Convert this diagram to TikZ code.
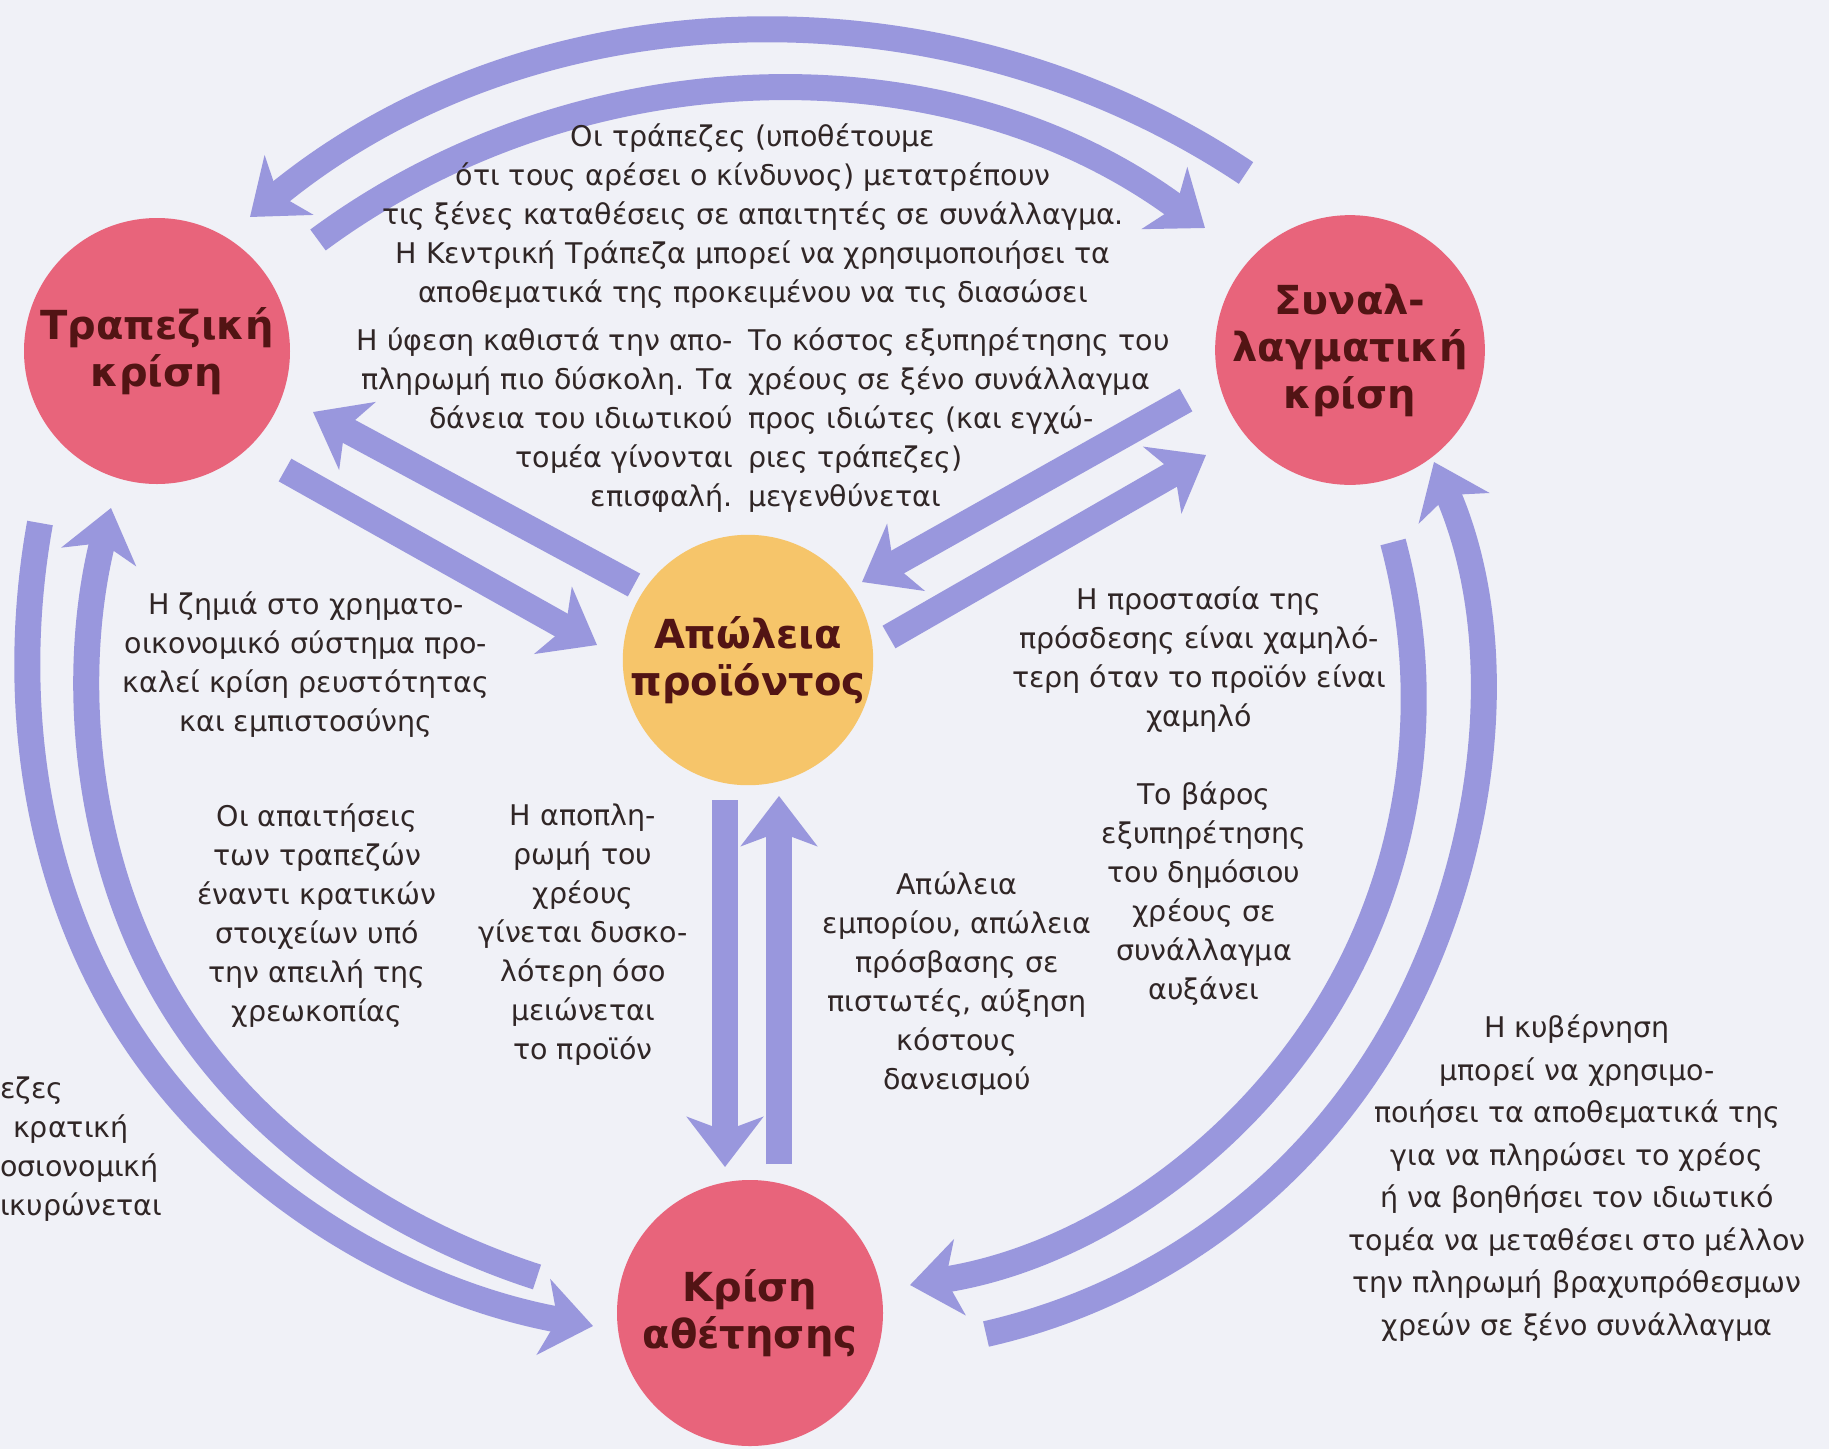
\documentclass[tikz,border=0pt]{standalone}
\usepackage{fontspec}
\setmainfont{DejaVu Sans}
\usetikzlibrary{arrows.meta}
\definecolor{bgc}{RGB}{240,241,247}
\definecolor{pinkc}{RGB}{232,100,123}
\definecolor{yellc}{RGB}{246,197,106}
\definecolor{arrc}{RGB}{153,151,221}
\definecolor{txtc}{RGB}{48,38,38}
\definecolor{lblc}{RGB}{82,20,20}
\tikzset{
  arr/.style={draw=arrc, line width=26pt, -{Stealth[length=50pt,width=76pt,inset=14pt]}},
  pinkcirc/.style={circle, fill=pinkc, inner sep=0pt, minimum size=266pt},
  yellcirc/.style={circle, fill=yellc, inner sep=0pt, minimum size=246pt},
  lbl/.style={font=\fontsize{40}{47}\selectfont\bfseries, text=lblc, align=center},
  txt/.style={font=\fontsize{28.5}{39}\selectfont, text=txtc, inner sep=0pt},
  txtwide/.style={font=\fontsize{28.5}{42.5}\selectfont, text=txtc, inner sep=0pt},
}
\begin{document}
\begin{tikzpicture}[x=1pt,y=-1pt]
\useasboundingbox (0,0) rectangle (1829,1449);
\fill[bgc] (0,0) rectangle (1829,1449);

% circles
\node[pinkcirc, lbl] (tk) at (157,351) {Τραπεζική\\κρίση};
\node[pinkcirc, lbl] (sk) at (1350,350) {Συναλ-\\λαγματική\\κρίση};
\node[yellcirc, lbl] (ap) at (748,660) {Απώλεια\\προϊόντος};
\node[pinkcirc, lbl] (ka) at (750,1313) {Κρίση\\αθέτησης};

% arrow end points
\coordinate (a1s) at (1246,173);  \coordinate (a1e) at (250,217);
\coordinate (a2s) at (318,240);   \coordinate (a2e) at (1205,228);
\coordinate (a3s) at (634,585);   \coordinate (a3e) at (313,412);
\coordinate (a4s) at (285,470);   \coordinate (a4e) at (597,645);
\coordinate (a5s) at (1186,400);  \coordinate (a5e) at (862,582);
\coordinate (a6s) at (889,637);   \coordinate (a6e) at (1206,455);
\coordinate (a7s) at (725,800);   \coordinate (a7e) at (725,1167);
\coordinate (a8s) at (779,1164);  \coordinate (a8e) at (779,796);
\coordinate (a9s) at (40,523);    \coordinate (a9m) at (140,1048);   \coordinate (a9e) at (593,1326);
\coordinate (a10s) at (537,1277); \coordinate (a10m) at (160.3,984.7); \coordinate (a10e) at (111,508);
\coordinate (a11s) at (1393,542); \coordinate (a11m) at (1318.3,1021.5); \coordinate (a11e) at (910,1285);
\coordinate (a12s) at (986,1334); \coordinate (a12m) at (1407.6,1003.2); \coordinate (a12e) at (1434,462);

% arrows
\draw[arr] (a1s) .. controls (942,-30) and (532,-14) .. (a1e);
\draw[arr] (a2s) .. controls (579,47) and (946,37) .. (a2e);
\draw[arr] (a3s) -- (a3e);
\draw[arr] (a4s) -- (a4e);
\draw[arr] (a5s) -- (a5e);
\draw[arr] (a6s) -- (a6e);
\draw[arr] (a7s) -- (a7e);
\draw[arr] (a8s) -- (a8e);
\draw[arr] (a9s) .. controls (7.6,702.9) and (35.8,897.7) .. (a9m)
            .. controls (244.2,1198.3) and (413.1,1293.3) .. (a9e);
\draw[arr] (a10s) .. controls (381.9,1226.6) and (239.3,1127.4) .. (a10m)
            .. controls (81.3,842) and (71.4,666.2) .. (a10e);
\draw[arr] (a11s) .. controls (1436.8,705.5) and (1410.8,879.7) .. (a11m)
            .. controls (1225.8,1163.3) and (1077.3,1259.1) .. (a11e);
\draw[arr] (a12s) .. controls (1168.9,1292.4) and (1323.6,1171.0) .. (a12m)
            .. controls (1491.6,835.4) and (1508.3,633.4) .. (a12e);

% texts
\node[txt, align=center] (t1) at (753,216) {Οι τράπεζες (υποθέτουμε\\ότι τους αρέσει ο κίνδυνος) μετατρέπουν\\τις ξένες καταθέσεις σε απαιτητές σε συνάλλαγμα.\\Η Κεντρική Τράπεζα μπορεί να χρησιμοποιήσει τα\\αποθεματικά της προκειμένου να τις διασώσει};
\node[txt, align=right, anchor=east] (t2) at (733,420) {Η ύφεση καθιστά την απο-\\πληρωμή πιο δύσκολη. Τα\\δάνεια του ιδιωτικού\\τομέα γίνονται\\επισφαλή.};
\node[txt, align=left, anchor=west] (t3) at (748,420) {Το κόστος εξυπηρέτησης του\\χρέους σε ξένο συνάλλαγμα\\προς ιδιώτες (και εγχώ-\\ριες τράπεζες)\\μεγενθύνεται};
\node[txt, align=center] (t4) at (306,665) {Η ζημιά στο χρηματο-\\οικονομικό σύστημα προ-\\καλεί κρίση ρευστότητας\\και εμπιστοσύνης};
\node[txt, align=center] (t5) at (1199,660) {Η προστασία της\\πρόσδεσης είναι χαμηλό-\\τερη όταν το προϊόν είναι\\χαμηλό};
\node[txt, align=center] (t6) at (317,916) {Οι απαιτήσεις\\των τραπεζών\\έναντι κρατικών\\στοιχείων υπό\\την απειλή της\\χρεωκοπίας};
\node[txt, align=center] (t7) at (583,935) {Η αποπλη-\\ρωμή του\\χρέους\\γίνεται δυσκο-\\λότερη όσο\\μειώνεται\\το προϊόν};
\node[txt, align=center] (t8) at (957,984) {Απώλεια\\εμπορίου, απώλεια\\πρόσβασης σε\\πιστωτές, αύξηση\\κόστους\\δανεισμού};
\node[txt, align=center] (t9) at (1204,894) {Το βάρος\\εξυπηρέτησης\\του δημόσιου\\χρέους σε\\συνάλλαγμα\\αυξάνει};
\node[txtwide, align=center] (t10) at (1577,1178) {Η κυβέρνηση\\μπορεί να χρησιμο-\\ποιήσει τα αποθεματικά της\\για να πληρώσει το χρέος\\ή να βοηθήσει τον ιδιωτικό\\τομέα να μεταθέσει στο μέλλον\\την πληρωμή βραχυπρόθεσμων\\χρεών σε ξένο συνάλλαγμα};
\node[txt, align=left, anchor=west] (t11) at (0,1149) {εζες\\\hspace*{13pt}κρατική\\οσιονομική\\ικυρώνεται};
\end{tikzpicture}
\end{document}
